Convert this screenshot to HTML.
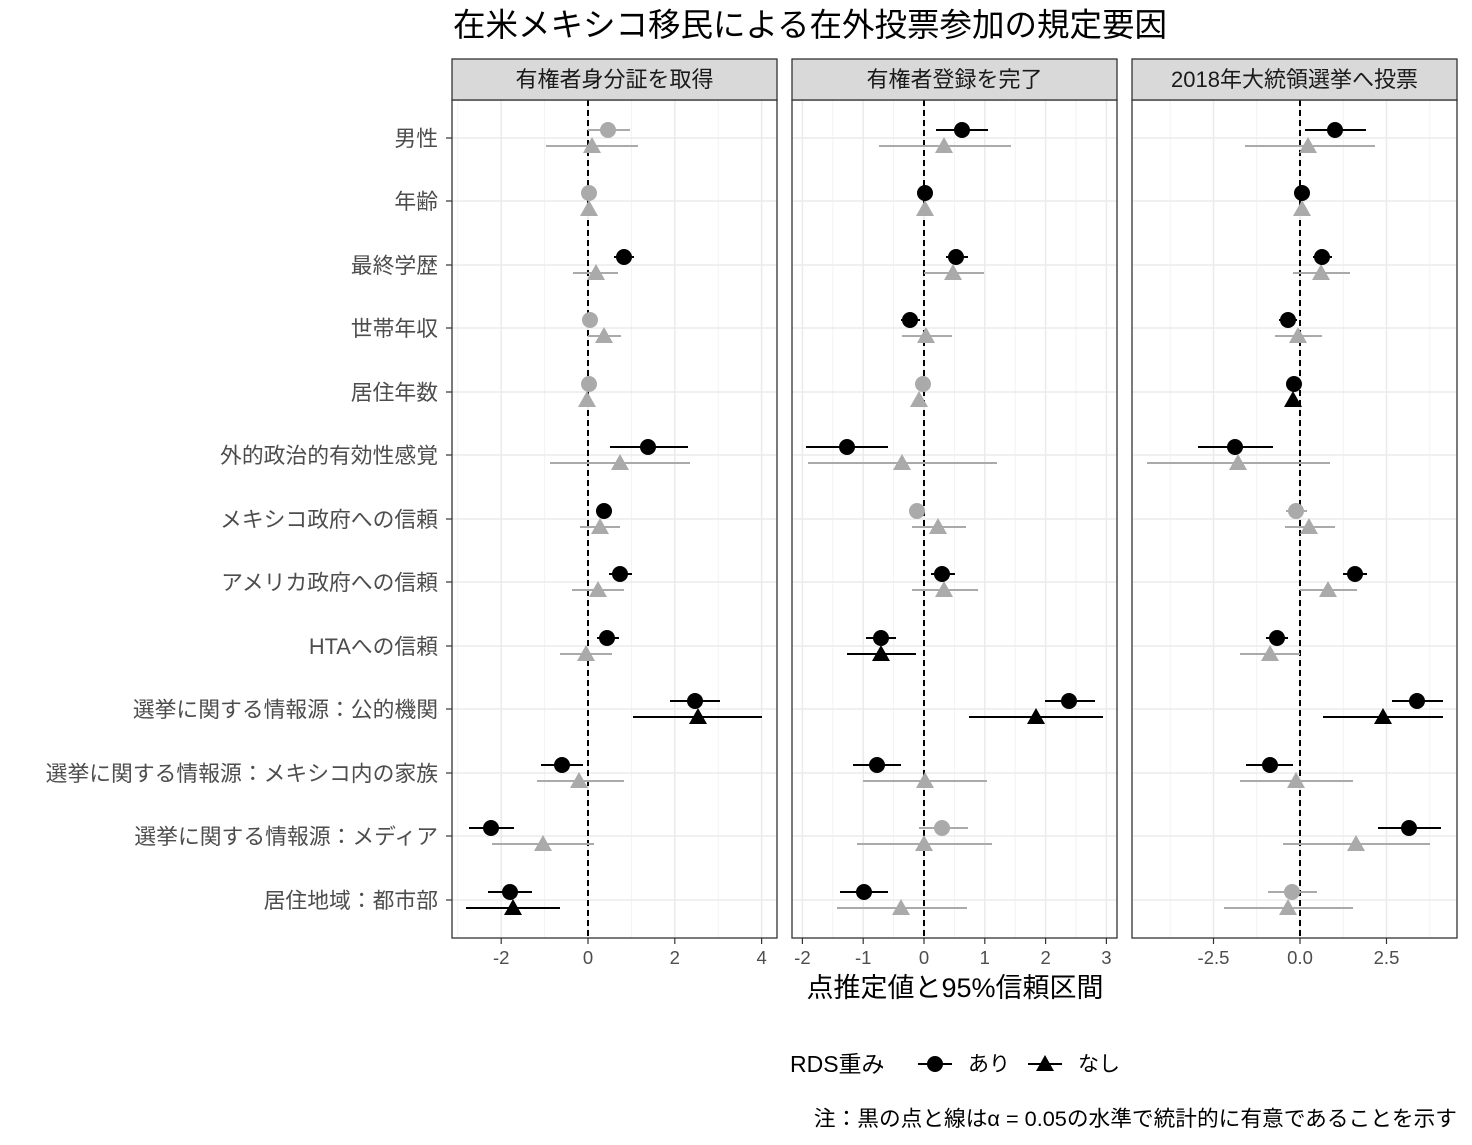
<!DOCTYPE html>
<html><head><meta charset="utf-8">
<style>
html,body{margin:0;padding:0;background:#fff;}
svg{display:block;font-family:"Liberation Sans","Noto Sans CJK JP",sans-serif;}
</style></head>
<body>
<svg id="s" width="1472" height="1145" viewBox="0 0 1472 1145" xmlns="http://www.w3.org/2000/svg">
<rect width="1472" height="1145" fill="#fff"/>
<text x="810" y="36" font-size="32.5" text-anchor="middle" fill="#000">在米メキシコ移民による在外投票参加の規定要因</text>
<g id="g"></g>
<text x="955" y="997" font-size="27" text-anchor="middle" fill="#000">点推定値と95%信頼区間</text>
<text x="790" y="1072" font-size="23" fill="#000">RDS重み</text>
<line x1="918" y1="1064" x2="952" y2="1064" stroke="#000" stroke-width="2"/>
<circle cx="935" cy="1064" r="8" fill="#000"/>
<text x="968" y="1071" font-size="21" fill="#000">あり</text>
<line x1="1028" y1="1064" x2="1062" y2="1064" stroke="#000" stroke-width="2"/>
<polygon points="1045,1055 1054,1071 1036,1071" fill="#000"/>
<text x="1078" y="1071" font-size="21" fill="#000">なし</text>
<text x="1457" y="1126" font-size="21.7" text-anchor="end" fill="#000">注：黒の点と線はα = 0.05の水準で統計的に有意であることを示す</text>
</svg>
<script>
var NS="http://www.w3.org/2000/svg",G=document.getElementById('g');
function el(t,a,txt){var e=document.createElementNS(NS,t);for(var k in a)e.setAttribute(k,a[k]);if(txt!=null)e.textContent=txt;G.appendChild(e);return e;}
var rows=[138,201,265,328,392,455,519,582,646,709,773,836,900];
var labels=["男性","年齢","最終学歴","世帯年収","居住年数","外的政治的有効性感覚","メキシコ政府への信頼","アメリカ政府への信頼","HTAへの信頼","選挙に関する情報源：公的機関","選挙に関する情報源：メキシコ内の家族","選挙に関する情報源：メディア","居住地域：都市部"];
var panels=[
{x0:452,x1:777,title:"有権者身分証を取得",zero:588,scale:43.4,
 major:[[-2,"-2"],[0,"0"],[2,"2"],[4,"4"]],minor:[-3,-1,1,3],
 d:[[608,588,630,0,592,546,638,0],[589,589,589,0,589,589,589,0],[624,614,634,1,596,573,618,0],[590,590,590,0,604,588,621,0],[589,589,589,0,587,587,587,0],[648,610,688,1,620,550,690,0],[604,596,612,1,600,580,620,0],[620,609,632,1,598,572,624,0],[607,597,619,1,586,560,612,0],[695,670,720,1,698,633,762,1],[562,541,583,1,579,537,624,0],[491,469,514,1,543,492,594,0],[510,488,532,1,513,466,560,1]]},
{x0:792,x1:1117,title:"有権者登録を完了",zero:924,scale:60.8,
 major:[[-2,"-2"],[-1,"-1"],[0,"0"],[1,"1"],[2,"2"],[3,"3"]],minor:[-1.5,-0.5,0.5,1.5,2.5],
 d:[[962,936,988,1,944,879,1011,0],[925,925,925,1,925,925,925,0],[956,946,968,1,953,924,984,0],[910,901,920,1,926,902,952,0],[923,923,923,0,919,919,919,0],[847,806,888,1,902,808,997,0],[917,910,925,0,938,912,966,0],[942,931,955,1,944,912,978,0],[881,866,896,1,881,847,916,1],[1069,1045,1095,1,1036,969,1103,1],[877,853,901,1,925,863,987,0],[942,919,968,0,924,857,992,0],[864,840,888,1,901,837,967,0]]},
{x0:1132,x1:1457,title:"2018年大統領選挙へ投票",zero:1300,scale:34.6,
 major:[[-2.5,"-2.5"],[0,"0.0"],[2.5,"2.5"]],minor:[-3.75,-1.25,1.25,3.75],
 d:[[1335,1305,1366,1,1308,1245,1375,0],[1302,1302,1302,1,1302,1302,1302,0],[1322,1313,1332,1,1321,1293,1350,0],[1288,1279,1297,1,1298,1275,1322,0],[1294,1294,1294,1,1293,1293,1293,1],[1235,1198,1273,1,1238,1147,1330,0],[1296,1286,1307,0,1309,1285,1335,0],[1355,1343,1367,1,1328,1300,1357,0],[1277,1266,1288,1,1270,1240,1300,0],[1417,1392,1443,1,1383,1323,1443,1],[1270,1246,1293,1,1296,1240,1353,0],[1409,1378,1441,1,1356,1283,1430,0],[1292,1268,1317,0,1288,1224,1353,0]]}
];
var Y0=100,Y1=938;
labels.forEach(function(l,i){el('text',{x:438,y:rows[i]+8,'font-size':21.8,'text-anchor':'end',fill:'#4d4d4d'},l);el('line',{x1:446,y1:rows[i],x2:452,y2:rows[i],stroke:'#333','stroke-width':1.2});});
panels.forEach(function(p){
 el('rect',{x:p.x0,y:Y0,width:p.x1-p.x0,height:Y1-Y0,fill:'#fff'});
 p.minor.forEach(function(v){var x=p.zero+v*p.scale;if(x>p.x0&&x<p.x1)el('line',{x1:x,y1:Y0,x2:x,y2:Y1,stroke:'#f2f2f2','stroke-width':1});});
 p.major.forEach(function(m){var x=p.zero+m[0]*p.scale;el('line',{x1:x,y1:Y0,x2:x,y2:Y1,stroke:'#ebebeb','stroke-width':1.5});
  el('line',{x1:x,y1:Y1,x2:x,y2:Y1+6,stroke:'#333','stroke-width':1.2});
  el('text',{x:x,y:Y1+26,'font-size':18.5,'text-anchor':'middle',fill:'#4d4d4d'},m[1]);});
 rows.forEach(function(y){el('line',{x1:p.x0,y1:y,x2:p.x1,y2:y,stroke:'#ebebeb','stroke-width':1.5});});
 el('line',{x1:p.zero,y1:Y0,x2:p.zero,y2:Y1,stroke:'#000','stroke-width':2,'stroke-dasharray':'6,4'});
 p.d.forEach(function(r,i){var y=rows[i];
  var c1=r[3]?'#000':'#aaa',c2=r[7]?'#000':'#aaa';
  el('line',{x1:r[5],y1:y+8,x2:r[6],y2:y+8,stroke:c2,'stroke-width':2});
  el('polygon',{points:r[4]+','+(y-1)+' '+(r[4]+9)+','+(y+15)+' '+(r[4]-9)+','+(y+15),fill:c2});
  el('line',{x1:r[1],y1:y-8,x2:r[2],y2:y-8,stroke:c1,'stroke-width':2});
  el('circle',{cx:r[0],cy:y-8,r:8,fill:c1});
 });
 el('rect',{x:p.x0,y:Y0,width:p.x1-p.x0,height:Y1-Y0,fill:'none',stroke:'#333','stroke-width':1.3});
 el('rect',{x:p.x0,y:59,width:p.x1-p.x0,height:41,fill:'#d9d9d9',stroke:'#333','stroke-width':1.3});
 el('text',{x:(p.x0+p.x1)/2,y:87,'font-size':22,'text-anchor':'middle',fill:'#1a1a1a'},p.title);
});
</script>
</body></html>
